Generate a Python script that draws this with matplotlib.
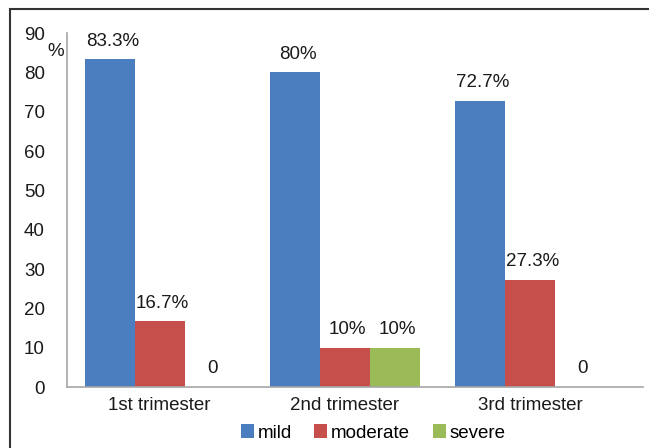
import numpy as np
import matplotlib.pyplot as plt
from matplotlib.patches import Rectangle

# данные
categories = ['1st trimester', '2nd trimester', '3rd trimester']
mild = [83.3, 80, 72.7]
moderate = [16.7, 10, 27.3]
severe = [0, 10, 0]
mild_labels = ['83.3%', '80%', '72.7%']
moderate_labels = ['16.7%', '10%', '27.3%']
severe_labels = ['0', '10%', '0']

plt.rcParams['font.family'] = ['Liberation Sans', 'DejaVu Sans']
plt.rcParams['font.size'] = 13.5

colors = ['#4a7ebf', '#c64f4c', '#9bbb59']
names = ['mild', 'moderate', 'severe']

fig = plt.figure(figsize=(6.49, 4.48), dpi=100)
ax = fig.add_axes([67 / 649, 1 - 387 / 448, 576 / 649, 354 / 448])

x = np.arange(len(categories))
w = 0.27
series = [mild, moderate, severe]
labels = [mild_labels, moderate_labels, severe_labels]
for i in range(3):
    pos = x + (i - 1) * w
    ax.bar(pos, series[i], width=w, color=colors[i], label=names[i])
    for xp, v, t in zip(pos, series[i], labels[i]):
        ax.annotate(t, (xp, v), xytext=(2, 13), textcoords='offset points',
                    ha='center', va='center', color='#1a1a1a')

ax.set_xlim(-0.5, 2.61)
ax.set_ylim(0, 90)
ax.set_yticks(range(0, 91, 10))
ax.set_xticks(x)
ax.set_xticklabels(categories)
ax.tick_params(axis='both', length=0, colors='#1a1a1a')
ax.tick_params(axis='y', pad=16)
ax.tick_params(axis='x', pad=7)
for s in ['top', 'right']:
    ax.spines[s].set_visible(False)
for s in ['left', 'bottom']:
    ax.spines[s].set_color('#a6a6a6')
    ax.spines[s].set_linewidth(1.2)

fig.text(64 / 649, 1 - 51 / 448, '%', ha='right', va='center', color='#1a1a1a')

fig.legend(loc='center', bbox_to_anchor=(373 / 649, 1 - 433 / 448), ncol=3, frameon=False,
           handlelength=0.7, handleheight=0.7, handletextpad=0.2, columnspacing=1.2)

# рамка вокруг рисунка
fig.patches.append(Rectangle((10 / 649, -0.1), 1.2, 1 - 9 / 448 + 0.1, transform=fig.transFigure,
                             fill=False, edgecolor='#333333', linewidth=1.5))

fig.savefig('out.png', dpi=100)
